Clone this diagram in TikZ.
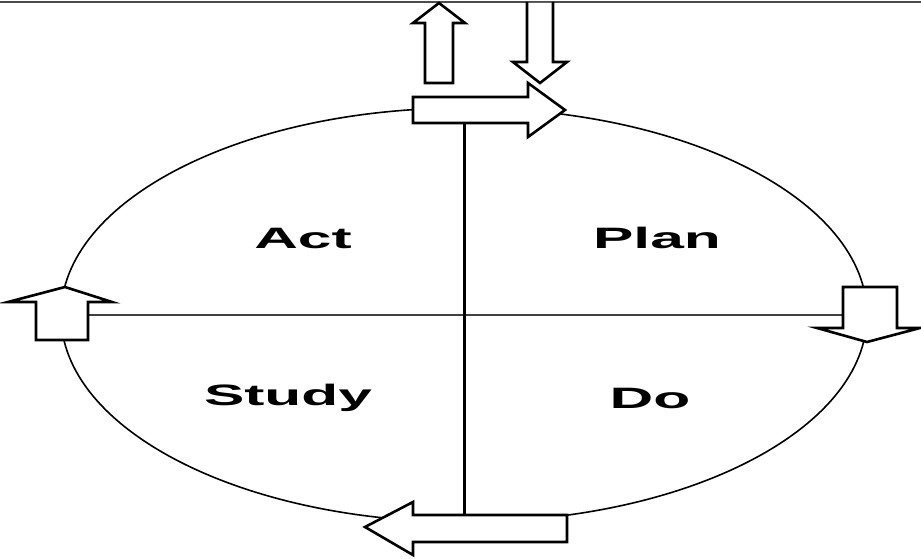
\documentclass[tikz,border=0pt]{standalone}
\usepackage{fontspec}
\setmainfont{Liberation Sans}
\begin{document}
\begin{tikzpicture}[x=1pt,y=-1pt,
  arrowshape/.style={draw=black,fill=white,line width=2.6pt,line join=miter},
  label/.style={font=\fontsize{29.5}{30}\selectfont\bfseries,inner sep=0pt}]
\useasboundingbox (0,0) rectangle (921,559);
% top border line
\draw[line width=2.5pt,gray!60!black] (0,2) -- (921,2);
% ellipse
\draw[line width=1.6pt] (464,315) ellipse [x radius=403, y radius=207];
% axes
\coordinate (hl) at (88,315);
\coordinate (hr) at (843,315);
\coordinate (vt) at (464,123);
\coordinate (vb) at (464,515);
\draw[line width=1.8pt,gray!50!black] (hl) -- (hr);
\draw[line width=3pt] (vt) -- (vb);
% top up arrow
\draw[arrowshape] (425,83) -- (425,23) -- (413,23) -- (439,3) -- (465,23) -- (453,23) -- (453,83) -- cycle;
% top down arrow
\fill[white] (527,3) -- (527,62) -- (513,62) -- (540,83) -- (567,62) -- (553,62) -- (553,3) -- cycle;
\draw[line width=2.6pt,line join=miter] (527,2) -- (527,62) -- (513,62) -- (540,83) -- (567,62) -- (553,62) -- (553,2);
% top right arrow
\draw[arrowshape] (413,97) -- (528,97) -- (528,83) -- (565,110) -- (528,137) -- (528,123) -- (413,123) -- cycle;
% left up arrow
\draw[arrowshape] (36,340) -- (36,302) -- (8,302) -- (65,287) -- (112,302) -- (88,302) -- (88,340) -- cycle;
% right down arrow
\draw[arrowshape] (843,287) -- (897,287) -- (897,328) -- (920,328) -- (867,342) -- (817,328) -- (843,328) -- cycle;
% bottom left arrow
\draw[arrowshape] (567,515) -- (413,515) -- (413,502) -- (365,527) -- (413,555) -- (413,542) -- (567,542) -- cycle;
% labels
\node[label] (act) at (303,238) {\scalebox{2.05}[1]{Act}};
\node[label] (plan) at (657,238) {\scalebox{2.05}[1]{Plan}};
\node[label] (study) at (288,398) {\scalebox{2.05}[1]{Study}};
\node[label] (do) at (650,398) {\scalebox{2.05}[1]{Do}};
\end{tikzpicture}
\end{document}
